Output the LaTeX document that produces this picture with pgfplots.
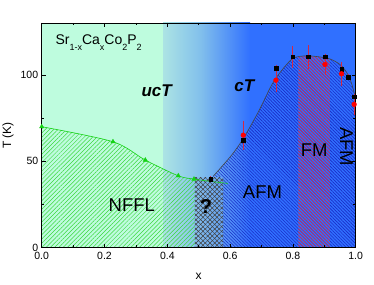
\documentclass[border=0pt]{standalone}
\usepackage{pgfplots}
\pgfplotsset{compat=1.18}
\usepackage{fontspec}
\setmainfont{Liberation Sans}
\usetikzlibrary{patterns.meta}
\definecolor{bggreen}{RGB}{190,252,222}
\definecolor{gradstart}{RGB}{172,228,228}
\definecolor{gradmid}{RGB}{128,190,236}
\definecolor{bgblue}{RGB}{48,112,255}
\definecolor{hatchblue}{RGB}{25,45,200}
\definecolor{hatchgreen}{RGB}{60,215,60}
\definecolor{hatchred}{RGB}{205,50,90}
\definecolor{qleft}{RGB}{132,190,236}
\definecolor{qright}{RGB}{100,160,242}
\definecolor{errred}{RGB}{210,40,70}
\definecolor{curvegray}{RGB}{70,70,70}
\definecolor{trigreen}{RGB}{20,210,20}
\begin{document}
\begin{tikzpicture}
\begin{axis}[
  scale only axis, width=314bp, height=224.7bp,
  xmin=0, xmax=1, ymin=0, ymax=130,
  axis on top,
  axis line style={line width=0.8bp, black},
  xtick={0,0.2,0.4,0.6,0.8,1.0}, minor x tick num=1,
  ytick={0,50,100}, minor y tick num=1,
  tick align=inside, tick pos=both,
  major tick length=4bp, minor tick length=2.5bp,
  every tick/.style={black, line width=0.6bp},
  tick label style={font=\fontsize{10.5bp}{12bp}\selectfont, /pgf/number format/assume math mode=true},
  x tick label style={/pgf/number format/.cd, fixed, fixed zerofill, precision=1, assume math mode=true, /tikz/.cd, yshift=-1bp},
  y tick label style={/pgf/number format/.cd, fixed, assume math mode=true, /tikz/.cd},
  xlabel={x}, ylabel={T (K)},
  xlabel style={font=\fontsize{12bp}{14bp}\selectfont, at={(axis description cs:0.5,-0.126)}, anchor=center},
  ylabel style={font=\fontsize{12bp}{14bp}\selectfont, at={(axis description cs:-0.107,0.5)}, anchor=center},
]
% backgrounds
\addplot[draw=none, fill=bggreen] coordinates {(0,130) (0.387,130)} \closedcycle;
\addplot[draw=none, left color=gradstart, right color=gradmid] coordinates {(0.387,130) (0.51,130)} \closedcycle;
\addplot[draw=none, left color=gradmid, right color=bgblue] coordinates {(0.509,130) (0.664,130)} \closedcycle;
\addplot[draw=none, fill=bgblue] coordinates {(0.663,130) (1,130)} \closedcycle;
% NFFL hatch
\addplot[draw=none, smooth, pattern={Lines[angle=45,distance=3bp,line width=0.5bp]}, pattern color=hatchgreen]
  coordinates {(0,70) (0.227,61.3) (0.33,50.7) (0.435,41.6) (0.488,39.6)} \closedcycle;
% AFM hatch under dome
\addplot[draw=none, smooth, pattern={Lines[angle=-45,distance=2.3bp,line width=0.6bp]}, pattern color=hatchblue]
  coordinates {(0.547,41.5) (0.605,53.6) (0.642,63.2) (0.690,78.6) (0.732,94) (0.764,102.5) (0.80,109.5) (0.84,111) (0.88,110.5) (0.918,109.2) (0.95,106) (0.971,101.5) (0.987,95) (1.0,86)} \closedcycle;
% FM hatch
\addplot[draw=none, smooth, pattern={Lines[angle=-45,distance=2.3bp,line width=0.7bp]}, pattern color=hatchred]
  coordinates {(0.817,110.3) (0.84,111) (0.88,110.5) (0.918,109.2)} \closedcycle;
% ? region
\addplot[draw=none, left color=qleft, right color=qright] coordinates {(0.488,40.5) (0.578,40.5)} \closedcycle;
\addplot[draw=none, pattern={Lines[angle=45,distance=3.3bp,line width=0.5bp]}, pattern color=black!75] coordinates {(0.488,40.5) (0.578,40.5)} \closedcycle;
\addplot[draw=none, pattern={Lines[angle=-45,distance=3.3bp,line width=0.5bp]}, pattern color=black!75] coordinates {(0.488,40.5) (0.578,40.5)} \closedcycle;
% dome line
\addplot[smooth, curvegray, line width=0.6bp, no marks]
  coordinates {(0.547,41.5) (0.605,53.6) (0.642,63.2) (0.690,78.6) (0.732,94) (0.764,102.5) (0.80,109.5) (0.84,111) (0.88,110.5) (0.918,109.2) (0.95,106) (0.971,101.5) (0.987,95) (1.0,86)};
% green line
\addplot[smooth, trigreen, line width=0.6bp, no marks]
  coordinates {(0,70) (0.227,61.3) (0.33,50.7) (0.435,41.6) (0.485,39.7) (0.54,38.3) (0.593,37.2)};
\addplot[only marks, mark=triangle*, mark size=2.5bp, trigreen]
  coordinates {(0,70) (0.227,61.3) (0.33,50.7) (0.435,41.6) (0.485,39.7)};
% black squares with error bars
\addplot[only marks, mark=square*, mark size=1.8bp, black,
  error bars/.cd, y dir=both, y explicit, error bar style={errred, line width=0.5bp}, error mark options={errred, mark size=3bp, line width=0.5bp}]
  coordinates {(0.538,39.7) +- (0,0) (0.642,62.2) +- (0,0) (0.746,104) +- (0,0) (0.799,110.4) +- (0,4.7) (0.849,110.4) +- (0,5.1) (0.902,110.5) +- (0,0) (0.955,103.1) +- (0,0) (0.976,98.8) +- (0,0) (0.995,87.3) +- (0,0)};
% red circles with error bars
\addplot[only marks, mark=*, mark size=2.4bp, red,
  error bars/.cd, y dir=both, y explicit, error bar style={errred, line width=0.5bp}, error mark options={errred, mark size=3bp, line width=0.5bp}]
  coordinates {(0.642,65.1) +- (0,6.7) (0.746,96.9) +- (0,5.2) (0.902,106) +- (0,4.4) (0.955,100.6) +- (0,5.1) (0.995,82.9) +- (0,4.2)};
% labels
\node[anchor=base west, font=\fontsize{14bp}{16bp}\selectfont] at (axis cs:0.033,117.5)
  {Sr\raisebox{-0.42em}{\fontsize{9bp}{9bp}\selectfont 1-x}Ca\raisebox{-0.42em}{\fontsize{9bp}{9bp}\selectfont x}Co\raisebox{-0.42em}{\fontsize{9bp}{9bp}\selectfont 2}P\raisebox{-0.42em}{\fontsize{9bp}{9bp}\selectfont 2}};
\node[font=\fontsize{17bp}{19bp}\selectfont\bfseries\itshape] at (axis cs:0.366,91) {ucT};
\node[font=\fontsize{17bp}{19bp}\selectfont\bfseries\itshape] at (axis cs:0.645,93.6) {cT};
\node[font=\fontsize{18.5bp}{20bp}\selectfont] at (axis cs:0.287,24.7) {NFFL};
\node[font=\fontsize{20bp}{22bp}\selectfont\bfseries] at (axis cs:0.523,23.7) {?};
\node[font=\fontsize{18.5bp}{20bp}\selectfont] at (axis cs:0.703,32.4) {AFM};
\node[font=\fontsize{18.5bp}{20bp}\selectfont] at (axis cs:0.868,56.6) {FM};
\node[font=\fontsize{18.5bp}{20bp}\selectfont, rotate=-90] at (axis cs:0.971,58.5) {AFM};
\end{axis}
\pgfresetboundingbox
\path[use as bounding box] ([xshift=-41.7bp,yshift=-37.3bp]current axis.south west) rectangle ([xshift=18.3bp,yshift=23bp]current axis.north east);
\end{tikzpicture}
\end{document}
